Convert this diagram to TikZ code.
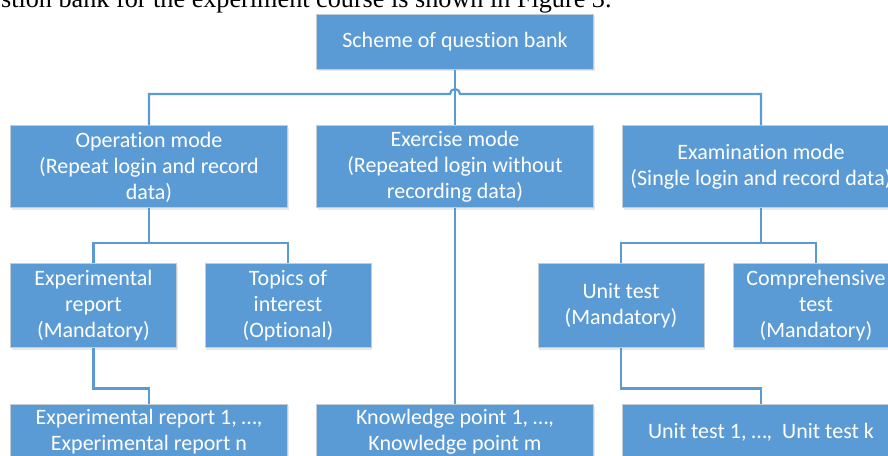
\documentclass[tikz,border=0pt]{standalone}
\usepackage{fontspec}
\setmainfont[Ligatures=NoCommon]{Carlito}
\newfontfamily\capfont{Liberation Serif}
\usepackage{xcolor}
\usepackage{tikz}
\usetikzlibrary{shadows}
\definecolor{boxblue}{HTML}{5B9BD5}
\definecolor{boxrim}{HTML}{C3CBD3}
\tikzstyle{qbox}=[draw=boxrim,line width=.5pt,fill=boxblue,text=white,align=center,inner sep=0pt,font=\fontsize{11}{13}\selectfont,drop shadow={opacity=.18,shadow xshift=.6pt,shadow yshift=-1pt}]
\tikzstyle{wide}=[qbox,minimum width=138.5pt]
\tikzstyle{narrow}=[qbox,minimum width=83pt]
\tikzstyle{link}=[draw=boxblue,line width=1.1pt]

\begin{document}
\begin{tikzpicture}[x=.5pt,y=.5pt]
	\useasboundingbox (0,0) rectangle (888,455);
	\node[anchor=base east,inner sep=0pt,font=\capfont\fontsize{13.1}{15}\selectfont] (cap) at (612,447) {stion bank for the experiment course is shown in Figure 3.};
	\node[wide,minimum height=27.5pt] (top) at (455,413) {Scheme of question bank};
	\node[wide,minimum height=41pt] (op) at (149,288) {Operation mode\\(Repeat login and record\\data)};
	\node[wide,minimum height=41pt] (ex) at (455,288) {Exercise mode\\(Repeated login without\\recording data)};
	\node[wide,minimum height=41pt] (exam) at (761,288) {Examination mode\\(Single login and record data)};
	\node[narrow,minimum height=42pt] (expr) at (93.5,149) {Experimental\\report\\(Mandatory)};
	\node[narrow,minimum height=42pt] (topics) at (288,149) {Topics of\\interest\\(Optional)};
	\node[narrow,minimum height=42pt] (unit) at (621,149) {Unit test\\(Mandatory)};
	\node[narrow,minimum height=42pt] (comp) at (816,149) {Comprehensive\\test\\(Mandatory)};
	\node[wide,minimum height=28pt] (expn) at (149,23) {Experimental report 1, …,\\Experimental report n};
	\node[wide,minimum height=28pt] (know) at (455,23) {Knowledge point 1, …,\\Knowledge point m};
	\node[wide,minimum height=28pt] (unitk) at (761,23) {Unit test 1, …,~ Unit test k};
	\coordinate (hop) at (450,361);
	\coordinate (bl) at (149,212);
	\coordinate (br) at (761,212);
	\draw[link] (top) -- (ex);
	\draw[link] (op.north) |- (hop) arc[start angle=180,end angle=0,radius=2.5pt] -| (exam.north);
	\draw[link] (op) -- (bl);
	\draw[link] (expr.north) |- (bl) -| (topics.north);
	\draw[link] (expr.south) -- ++(0,-40) -| (expn.north);
	\draw[link] (ex) -- (know);
	\draw[link] (exam) -- (br);
	\draw[link] (unit.north) |- (br) -| (comp.north);
	\draw[link] (unit.south) -- ++(0,-40) -| (unitk.north);
\end{tikzpicture}
\end{document}
